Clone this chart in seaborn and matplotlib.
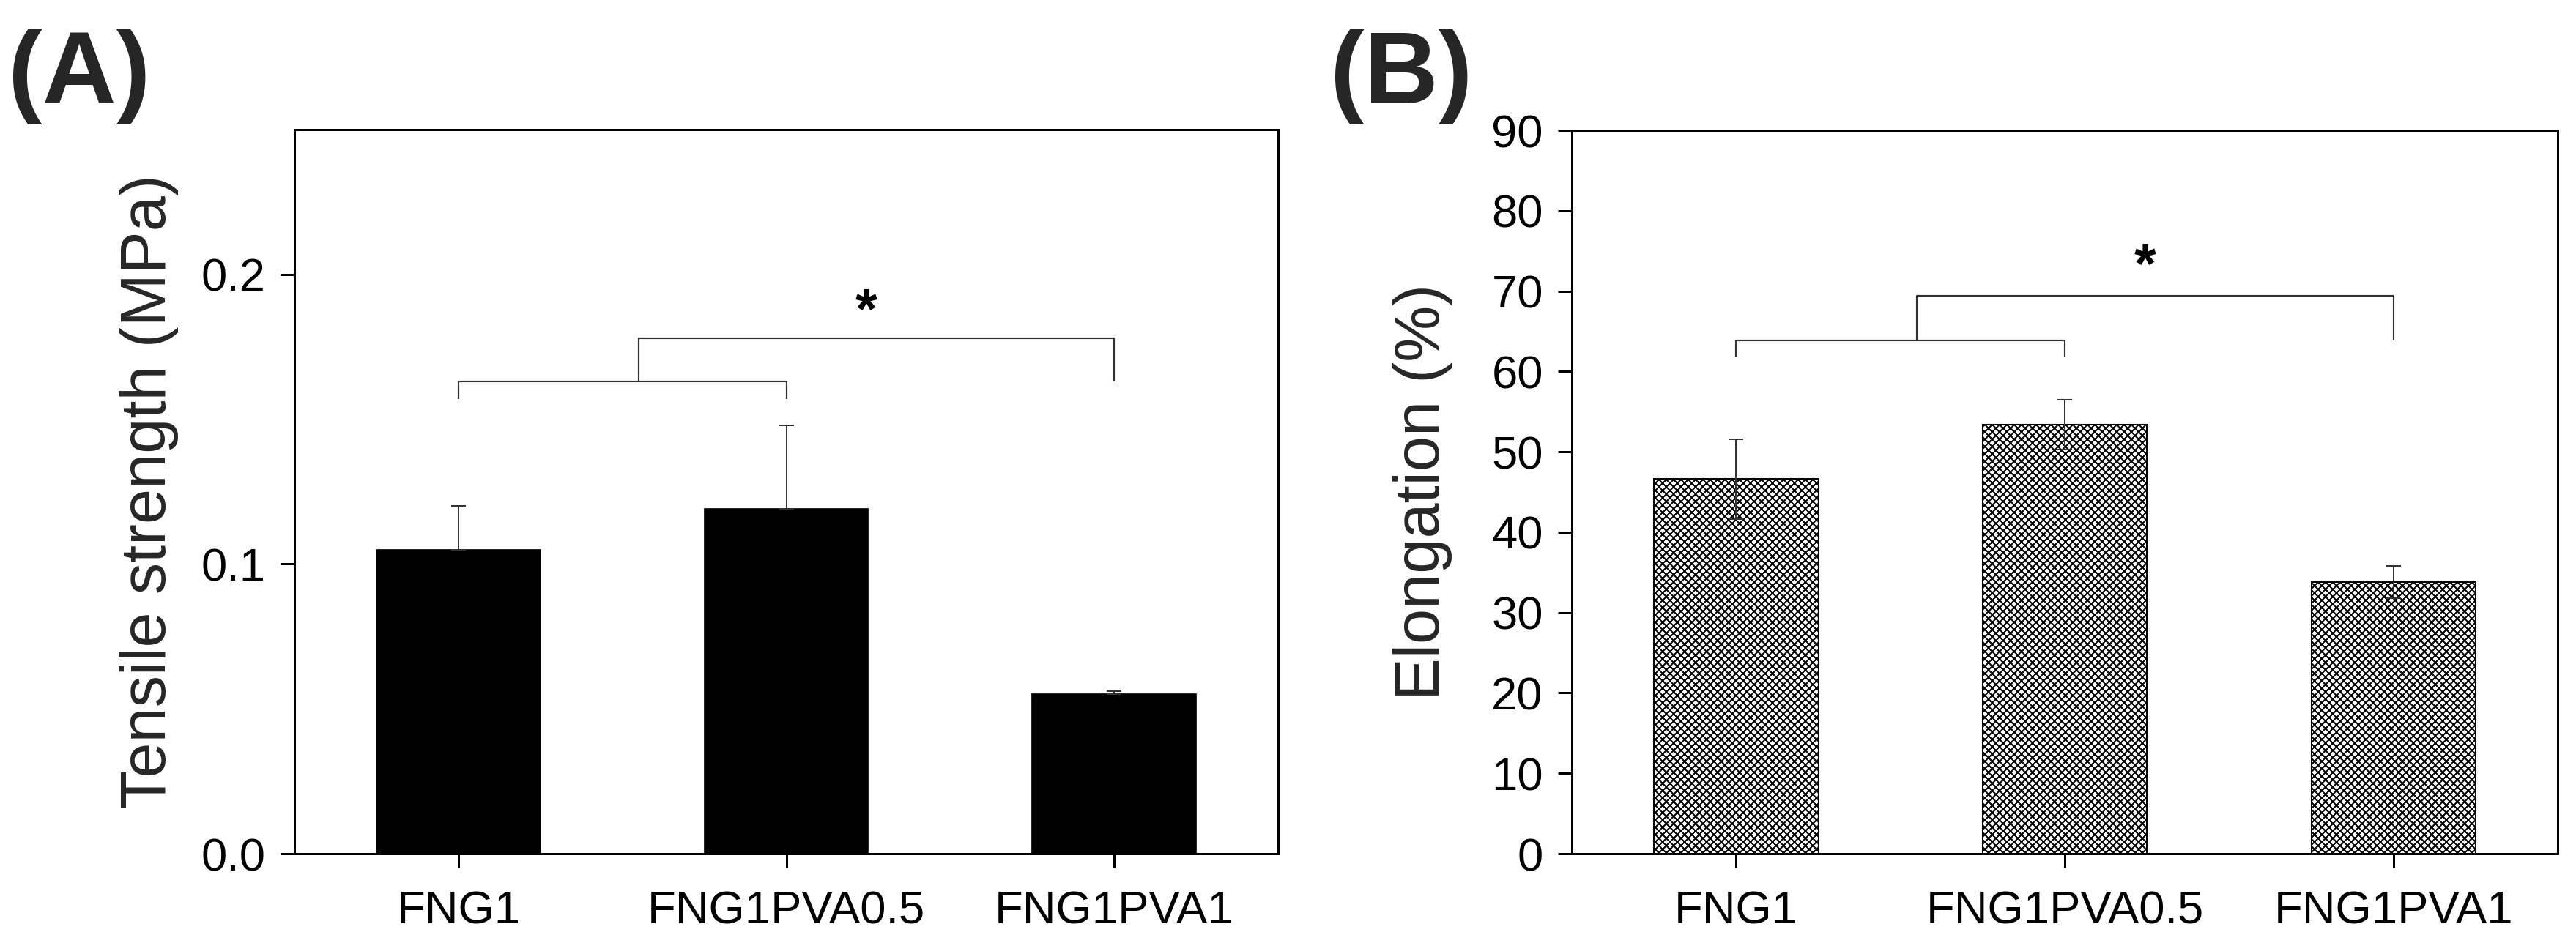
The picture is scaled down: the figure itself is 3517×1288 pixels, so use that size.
# Tensile strength and elongation of FNG1 films with PVA
import pandas as pd
import matplotlib
matplotlib.use('Agg')
import matplotlib.pyplot as plt
import seaborn as sns

# data
samples = ['FNG1', 'FNG1PVA0.5', 'FNG1PVA1']
tensile_mean = [0.105, 0.119, 0.055]   # MPa
tensile_err = [0.015, 0.029, 0.001]    # upper error only
elong_mean = [46.6, 53.4, 33.8]        # %
elong_err = [5.0, 3.1, 2.0]

# significance brackets: leg bottom, lower bracket, upper bracket, star height
tensile_bracket = [0.157, 0.163, 0.178, 0.1865]
elong_bracket = [61.8, 63.9, 69.4, 72.8]
bracket_join = 0.55

tensile_ticks = [0.0, 0.1, 0.2]
elong_ticks = list(range(0, 100, 10))

DPI = 120
W, H = 3517, 1288


def style_axes(ax):
    for sp in ax.spines.values():
        sp.set_visible(True)
        sp.set_linewidth(1.8)
        sp.set_color('black')
    ax.tick_params(axis='both', direction='out', length=11.5, width=1.8,
                   labelsize=38, colors='black', top=False, right=False)
    ax.tick_params(axis='y', pad=12)
    ax.tick_params(axis='x', pad=18)
    ax.set_xlim(-0.5, 2.5)
    ax.set_xlabel('')


def draw_brackets(ax, b):
    leg, low, high, star = b
    kw = dict(color='#333333', lw=1.3, solid_capstyle='butt')
    ax.plot([0, 0, 1, 1], [leg, low, low, leg], **kw)
    ax.plot([bracket_join, bracket_join, 2, 2], [low, high, high, low], **kw)
    ax.text((bracket_join + 2) / 2 - 0.03, star, '*', ha='center', va='center',
            fontsize=46, fontweight='bold', color='black')


def main():
    sns.set_style('ticks')
    plt.rcParams['font.family'] = ['Liberation Sans', 'DejaVu Sans']
    plt.rcParams['hatch.linewidth'] = 1.2

    df = pd.DataFrame({'sample': samples, 'tensile': tensile_mean,
                       'elongation': elong_mean})

    fig = plt.figure(figsize=(W / DPI, H / DPI), dpi=DPI)
    ax_a = fig.add_axes([402 / W, 122 / H, 1343 / W, 989 / H])
    ax_b = fig.add_axes([2146 / W, 122 / H, 1346 / W, 988 / H])

    # (A) tensile strength
    sns.barplot(data=df, x='sample', y='tensile', color='black', saturation=1,
                width=0.5, errorbar=None, edgecolor='black', linewidth=1, ax=ax_a)
    ax_a.errorbar(range(len(samples)), tensile_mean,
                  yerr=[[0] * len(samples), tensile_err], fmt='none',
                  ecolor='#333333', elinewidth=1.2, capsize=6, capthick=1.2, zorder=5)
    style_axes(ax_a)
    ax_a.set_ylim(0, 0.25)
    ax_a.set_yticks(tensile_ticks)
    ax_a.set_yticklabels([f'{t:.1f}' for t in tensile_ticks])
    ax_a.set_ylabel('Tensile strength (MPa)', fontsize=52)
    ax_a.yaxis.set_label_coords(-0.118, 0.5)
    draw_brackets(ax_a, tensile_bracket)

    # (B) elongation
    sns.barplot(data=df, x='sample', y='elongation', color='white', saturation=1,
                width=0.5, errorbar=None, edgecolor='black', linewidth=1.2, ax=ax_b)
    for p in ax_b.patches:
        p.set_hatch('xxxx')
        p.set_edgecolor('black')
    ax_b.errorbar(range(len(samples)), elong_mean, yerr=elong_err, fmt='none',
                  ecolor='#333333', elinewidth=1.2, capsize=6, capthick=1.2, zorder=5)
    style_axes(ax_b)
    ax_b.set_ylim(0, 90)
    ax_b.set_yticks(elong_ticks)
    ax_b.set_ylabel('Elongation (%)', fontsize=52)
    ax_b.yaxis.set_label_coords(-0.121, 0.5)
    draw_brackets(ax_b, elong_bracket)

    fig.text(11 / W, 1 - 141 / H, '(A)', fontsize=84, fontweight='bold',
             ha='left', va='baseline')
    fig.text(1816 / W, 1 - 141 / H, '(B)', fontsize=84, fontweight='bold',
             ha='left', va='baseline')

    fig.savefig('out.png', dpi=DPI, facecolor='white')


if __name__ == '__main__':
    main()
